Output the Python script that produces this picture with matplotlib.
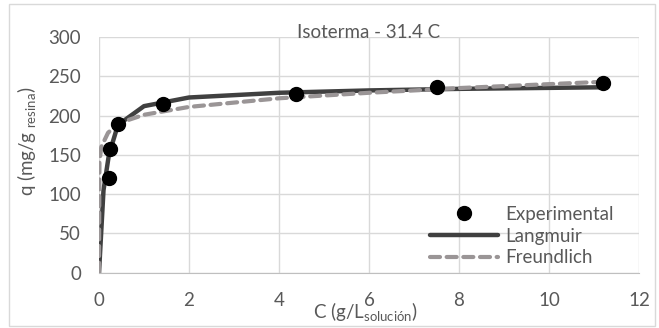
import numpy as np
import matplotlib.pyplot as plt
from matplotlib.patches import Rectangle

# Experimental isotherm data
c_exp = [0.22, 0.25, 0.42, 1.43, 4.38, 7.5, 11.2]
q_exp = [120, 158, 189, 215, 227, 236, 241]

# Langmuir fit
c_lang = [0, 0.1, 0.22, 0.42, 1.0, 2.0, 4.0, 6.0, 8.0, 11.2]
q_lang = [0, 105, 150, 188, 212, 223, 229, 232, 234, 236]

# Freundlich fit
c_freu = [0, 0.01, 0.05, 0.2, 0.42, 1.0, 2.0, 4.0, 6.0, 8.0, 11.2]
q_freu = [0, 140, 160, 178, 190, 201, 211, 222, 229, 235, 243]

xticks = [0, 2, 4, 6, 8, 10, 12]
yticks = [0, 50, 100, 150, 200, 250, 300]

txt = '#595959'
FS = 13.5
plt.rcParams['font.family'] = ['Lato', 'DejaVu Sans']

fig = plt.figure(figsize=(6.59, 3.28), dpi=100)
fig.patches.append(Rectangle((9 / 659, 2 / 328), 646 / 659, 322 / 328, transform=fig.transFigure,
                             fill=False, edgecolor='#d9d9d9', linewidth=1))

ax = fig.add_axes([99 / 659, 1 - 272.7 / 328, 540 / 659, 235.7 / 328])

ax.plot(c_lang, q_lang, color='#404040', linewidth=3.2, label='Langmuir', zorder=3,
        solid_capstyle='round')
ax.plot(c_freu, q_freu, color='#9a9596', linewidth=3.0, linestyle=(0, (2.4, 1.6)),
        dash_capstyle='round', label='Freundlich', zorder=4)
ax.plot(c_exp, q_exp, 'o', color='black', markersize=10, label='Experimental', zorder=5)

ax.set_xlim(0, 12)
ax.set_ylim(0, 300)
ax.set_xticks(xticks)
ax.set_yticks(yticks)
ax.grid(True, color='#d9d9d9', linewidth=1)
ax.set_axisbelow(True)
for s in ['top', 'right', 'left']:
    ax.spines[s].set_visible(False)
ax.spines['bottom'].set_color('#bfbfbf')
ax.tick_params(length=0, labelsize=FS, labelcolor=txt)
ax.tick_params(axis='x', pad=14)
ax.tick_params(axis='y', pad=13)

ax.text(0.5, 0.995, 'Isoterma - 31.4 C', transform=ax.transAxes, ha='center', va='baseline',
        fontsize=FS, color=txt)

fig.text(365 / 659, 1 - 312 / 328, 'C (g/L$_{\\mathregular{soluci\u00f3n}}$)', ha='center', va='center',
         fontsize=FS, color=txt)
fig.text(27 / 659, 1 - 141 / 328, 'q (mg/g$_{\\mathregular{\\ resina}}$)', ha='center', va='center',
         rotation=90, fontsize=FS, color=txt)

h, l = ax.get_legend_handles_labels()
order = [2, 0, 1]
leg = ax.legend([h[i] for i in order], [l[i] for i in order], loc='lower right',
                bbox_to_anchor=(0.967, -0.005), frameon=False, fontsize=FS, handlelength=3.6,
                handletextpad=0.4, labelspacing=0.25, borderaxespad=0.0)
for t in leg.get_texts():
    t.set_color(txt)

fig.savefig('out.png', dpi=100)
